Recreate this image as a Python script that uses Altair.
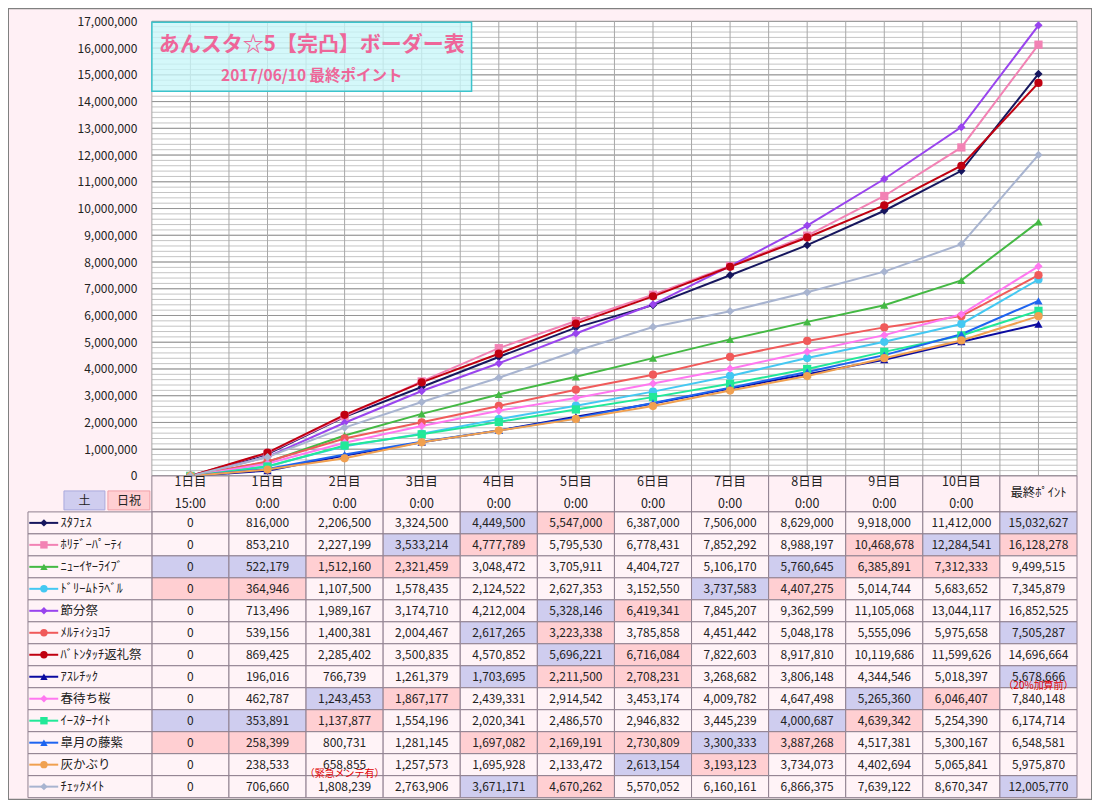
import altair as alt
import pandas as pd

FONT = "Noto Sans CJK JP"

TITLE = "あんスタ☆5【完凸】ボーダー表"
SUBTITLE = "2017/06/10 最終ポイント"

COLUMNS = ["1日目\n15:00", "1日目\n0:00", "2日目\n0:00", "3日目\n0:00", "4日目\n0:00",
           "5日目\n0:00", "6日目\n0:00", "7日目\n0:00", "8日目\n0:00", "9日目\n0:00",
           "10日目\n0:00", "最終ﾎﾟｲﾝﾄ"]

NAMES = ["ｽﾀﾌｪｽ", "ﾎﾘﾃﾞｰﾊﾟｰﾃｨ", "ﾆｭｰｲﾔｰﾗｲﾌﾞ", "ﾄﾞﾘｰﾑﾄﾗﾍﾞﾙ", "節分祭", "ﾒﾙﾃｨｼｮｺﾗ",
         "ﾊﾞﾄﾝﾀｯﾁ返礼祭", "ｱｽﾚﾁｯｸ", "春待ち桜", "ｲｰｽﾀｰﾅｲﾄ", "皐月の藤紫", "灰かぶり", "ﾁｪｯｸﾒｲﾄ"]
COLORS = ["#16165e", "#f282b4", "#44b944", "#44c8f2", "#9944ee", "#f05a5a",
          "#c00010", "#0a0aa0", "#ff77f0", "#22e898", "#1e64f0", "#f0a050", "#a8b4d0"]
SHAPES = ["diamond", "square", "triangle-up", "circle", "diamond", "circle",
          "circle", "triangle-up", "diamond", "square", "triangle-up", "circle", "diamond"]
WIDTHS = [2, 2, 2, 2, 2, 2, 2, 2, 2, 2, 2, 2, 3.5]

STAFES = [0, 816000, 2206500, 3324500, 4449500, 5547000, 6387000, 7506000, 8629000, 9918000, 11412000, 15032627]
HOLIDAY = [0, 853210, 2227199, 3533214, 4777789, 5795530, 6778431, 7852292, 8988197, 10468678, 12284541, 16128278]
NEWYEAR = [0, 522179, 1512160, 2321459, 3048472, 3705911, 4404727, 5106170, 5760645, 6385891, 7312333, 9499515]
DREAM = [0, 364946, 1107500, 1578435, 2124522, 2627353, 3152550, 3737583, 4407275, 5014744, 5683652, 7345879]
SETSUBUN = [0, 713496, 1989167, 3174710, 4212004, 5328146, 6419341, 7845207, 9362599, 11105068, 13044117, 16852525]
MELTY = [0, 539156, 1400381, 2004467, 2617265, 3223338, 3785858, 4451442, 5048178, 5555096, 5975658, 7505287]
BATON = [0, 869425, 2285402, 3500835, 4570852, 5696221, 6716084, 7822603, 8917810, 10119686, 11599626, 14696664]
ATHLETIC = [0, 196016, 766739, 1261379, 1703695, 2211500, 2708231, 3268682, 3806148, 4344546, 5018397, 5678666]
HARUMACHI = [0, 462787, 1243453, 1867177, 2439331, 2914542, 3453174, 4009782, 4647498, 5265360, 6046407, 7840148]
EASTER = [0, 353891, 1137877, 1554196, 2020341, 2486570, 2946832, 3445239, 4000687, 4639342, 5254390, 6174714]
SATSUKI = [0, 258399, 800731, 1281145, 1697082, 2169191, 2730809, 3300333, 3887268, 4517381, 5300167, 6548581]
HAIKABURI = [0, 238533, 658855, 1257573, 1695928, 2133472, 2613154, 3193123, 3734073, 4402694, 5065841, 5975870]
CHECKMATE = [0, 706660, 1808239, 2763906, 3671171, 4670262, 5570052, 6160161, 6866375, 7639122, 8670347, 12005770]
VALUES = [STAFES, HOLIDAY, NEWYEAR, DREAM, SETSUBUN, MELTY, BATON, ATHLETIC,
          HARUMACHI, EASTER, SATSUKI, HAIKABURI, CHECKMATE]

# cell shading per row: L = 土 (lavender), P = 日祝 (pink), . = none
HIGHLIGHT = ["....LP.....L", "...LP....PLP", "LLPP....LPP.", "PP.....LP...",
             ".....LP.....", "....LP.....L", ".....LP.....", "....LPP....L",
             "..LP.....LP.", "LLP.....LP..", "PP..PPPLP...", "......LP....",
             "....LP.....L"]

# notes: (text, row, column)
NOTES = [("（緊急メンテ有）", 11, 2), ("（20%加算前）", 7, 11)]

Y_TICKS = list(range(0, 17_000_001, 1_000_000))

recs = []
for r, (n, vals, hl) in enumerate(zip(NAMES, VALUES, HIGHLIGHT)):
    for i, v in enumerate(vals):
        recs.append({"name": n, "row": r, "idx": i, "value": v, "hl": hl[i]})
df = pd.DataFrame(recs)
df_s = pd.DataFrame({"name": NAMES, "row": list(range(len(NAMES)))})
df_h = pd.DataFrame({"label": COLUMNS, "idx": list(range(len(COLUMNS)))})
df_n = pd.DataFrame({"text": [t for t, _, _ in NOTES], "row": [r for _, r, _ in NOTES],
                     "idx": [c for _, _, c in NOTES]})
one = pd.DataFrame({"a": [0]})

BG = "#fff0f5"
CELL_BG = "#fff3f7"
BORDER = "#8f7f8f"
LAV = "#cfcdef"
PINK = "#ffcfd2"
TITLE_C = "#ee6699"

x_scale = alt.Scale(domain=[-0.5, 11.5], range=[144, 1070], nice=False, zero=False)
y_line = alt.Scale(domain=[0, 17_000_000], range=[468, 13], nice=False, zero=False)
y_tab = alt.Scale(domain=[0, 13], range=[504, 790], nice=False, zero=False)
color_scale = alt.Scale(domain=NAMES, range=COLORS)
shape_scale = alt.Scale(domain=NAMES, range=SHAPES)
LEG_L = -2.107

def xd(v):
    return alt.XDatum(v, scale=x_scale, axis=None)

plot_bg = alt.Chart(one).mark_rect(fill="white").encode(
    x=xd(-0.5), x2=alt.X2Datum(11.5),
    y=alt.YDatum(0, scale=y_line, axis=None), y2=alt.Y2Datum(17_000_000))

minor = alt.Chart(alt.sequence(0, 17_000_001, 200_000, as_="v")).mark_rule(
    color="#c4c4c4", strokeWidth=1).encode(
    x=xd(-0.5), x2=alt.X2Datum(11.5),
    y=alt.Y("v:Q", scale=y_line, axis=None))

major = alt.Chart(alt.sequence(0, 17_000_001, 1_000_000, as_="v")).mark_rule(
    color="#959595", strokeWidth=1).encode(
    x=xd(-0.5), x2=alt.X2Datum(11.5),
    y=alt.Y("v:Q", scale=y_line,
            axis=alt.Axis(orient="left", offset=-144, labelPadding=15, ticks=False,
                          domain=False, grid=False, values=Y_TICKS, title=None,
                          labelExpr="format(datum.value, ',')",
                          labelFont=FONT, labelFontSize=12, labelColor="#222222")))

vert = alt.Chart(alt.sequence(-0.5, 11.75, 0.5, as_="v")).mark_rule(
    color="#a8a8a8", strokeWidth=1).encode(
    x=alt.X("v:Q", scale=x_scale, axis=None),
    y=alt.YDatum(0, scale=y_line, axis=None), y2=alt.Y2Datum(17_000_000))

title_box = alt.Chart(one).mark_rect(fill="#c8f6f8", fillOpacity=0.78, stroke="#3cc4cc",
                                     strokeWidth=1.5).encode(
    x=alt.value(144), x2=alt.value(464), y=alt.value(14), y2=alt.value(83))
title_t = alt.Chart(pd.DataFrame({"t": [TITLE]})).mark_text(
    font=FONT, fontSize=21, fontWeight="bold", color=TITLE_C).encode(
    x=alt.value(304), y=alt.value(37), text="t:N")
sub_t = alt.Chart(pd.DataFrame({"t": [SUBTITLE]})).mark_text(
    font=FONT, fontSize=15.5, fontWeight="bold", color=TITLE_C).encode(
    x=alt.value(304), y=alt.value(68), text="t:N")

lines = alt.Chart(df).mark_line().encode(
    x=alt.X("idx:Q", scale=x_scale, axis=None),
    y=alt.Y("value:Q", scale=y_line, axis=None),
    color=alt.Color("name:N", scale=color_scale, legend=None),
    strokeWidth=alt.StrokeWidth("name:N", scale=alt.Scale(domain=NAMES, range=WIDTHS), legend=None),
    order="idx:Q")
points = alt.Chart(df).mark_point(filled=True, size=68, opacity=1).encode(
    x=alt.X("idx:Q", scale=x_scale, axis=None),
    y=alt.Y("value:Q", scale=y_line, axis=None),
    color=alt.Color("name:N", scale=color_scale, legend=None),
    shape=alt.Shape("name:N", scale=shape_scale, legend=None))

hdr_cells = alt.Chart(df_h).transform_calculate(
    x0="datum.idx - 0.5", x1="datum.idx + 0.5").mark_rect(
    fill=BG, stroke=BORDER, strokeWidth=1).encode(
    x=alt.X("x0:Q", scale=x_scale, axis=None), x2="x1:Q",
    y=alt.YDatum(-36 / 22, scale=y_tab, axis=None), y2=alt.Y2Datum(0))
hdr_text = alt.Chart(df_h).transform_calculate(
    yh="indexof(datum.label, '\\n') >= 0 ? -1.36 : -0.86").mark_text(
    font=FONT, fontSize=12.5, lineBreak="\n", lineHeight=22, color="#222222").encode(
    x=alt.X("idx:Q", scale=x_scale, axis=None),
    y=alt.Y("yh:Q", scale=y_tab, axis=None), text="label:N")

key_df = pd.DataFrame({"k": ["土", "日祝"], "f": [LAV, PINK], "s": ["#aaaadd", "#f0a0a8"],
                       "x": [56, 100], "x2": [97, 142]})
key_box = alt.Chart(key_df).mark_rect(strokeWidth=1).encode(
    x=alt.X("x:Q", scale=None, axis=None), x2="x2:Q",
    y=alt.value(483), y2=alt.value(502),
    fill=alt.Fill("f:N", scale=None), stroke=alt.Stroke("s:N", scale=None))
key_text = alt.Chart(key_df).transform_calculate(xc="(datum.x + datum.x2) / 2").mark_text(
    font=FONT, fontSize=12, color="#222222").encode(
    x=alt.X("xc:Q", scale=None, axis=None), y=alt.value(493), text="k:N")

cells = alt.Chart(df).transform_calculate(
    x0="datum.idx - 0.5", x1="datum.idx + 0.5", y1="datum.row + 1").mark_rect(
    stroke=BORDER, strokeWidth=1).encode(
    x=alt.X("x0:Q", scale=x_scale, axis=None), x2="x1:Q",
    y=alt.Y("row:Q", scale=y_tab, axis=None), y2="y1:Q",
    fill=alt.Fill("hl:N", scale=alt.Scale(domain=[".", "L", "P"], range=[CELL_BG, LAV, PINK]),
                  legend=None))
cell_text = alt.Chart(df).transform_calculate(yc="datum.row + 0.5").mark_text(
    font=FONT, fontSize=12, color="#222222").encode(
    x=alt.X("idx:Q", scale=x_scale, axis=None),
    y=alt.Y("yc:Q", scale=y_tab, axis=None),
    text=alt.Text("value:Q", format=","))

leg_cells = alt.Chart(df_s).transform_calculate(y1="datum.row + 1").mark_rect(
    fill=CELL_BG, stroke=BORDER, strokeWidth=1).encode(
    x=xd(LEG_L), x2=alt.X2Datum(-0.5),
    y=alt.Y("row:Q", scale=y_tab, axis=None), y2="y1:Q")
leg_line = alt.Chart(df_s).transform_calculate(yc="datum.row + 0.5").mark_rule().encode(
    x=xd(-2.09), x2=alt.X2Datum(-1.715),
    y=alt.Y("yc:Q", scale=y_tab, axis=None),
    color=alt.Color("name:N", scale=color_scale, legend=None),
    strokeWidth=alt.StrokeWidth("name:N", scale=alt.Scale(domain=NAMES, range=WIDTHS), legend=None))
leg_pt = alt.Chart(df_s).transform_calculate(yc="datum.row + 0.5").mark_point(
    filled=True, size=55, opacity=1).encode(
    x=xd(-1.9),
    y=alt.Y("yc:Q", scale=y_tab, axis=None),
    color=alt.Color("name:N", scale=color_scale, legend=None),
    shape=alt.Shape("name:N", scale=shape_scale, legend=None))
leg_text = alt.Chart(df_s).transform_calculate(yc="datum.row + 0.5").mark_text(
    font=FONT, fontSize=12.5, align="left", color="#222222").encode(
    x=xd(-1.685),
    y=alt.Y("yc:Q", scale=y_tab, axis=None), text="name:N")

notes = alt.Chart(df_n).transform_calculate(yc="datum.row + 0.5").mark_text(
    font=FONT, fontSize=10, color="#e00000", dy=9).encode(
    x=alt.X("idx:Q", scale=x_scale, axis=None),
    y=alt.Y("yc:Q", scale=y_tab, axis=None), text="text:N")

chart = alt.layer(
    plot_bg, minor, major, vert, title_box, title_t, sub_t, lines, points,
    hdr_cells, hdr_text, key_box, key_text, cells, cell_text,
    leg_cells, leg_line, leg_pt, leg_text, notes
).resolve_scale(y="independent").properties(
    width=1085, height=792, padding=0, autosize="none", background=BG
).configure_view(fill=BG, stroke="#808080", strokeWidth=2)

chart.save("out.html", embed_options={"renderer": "svg", "actions": False})
